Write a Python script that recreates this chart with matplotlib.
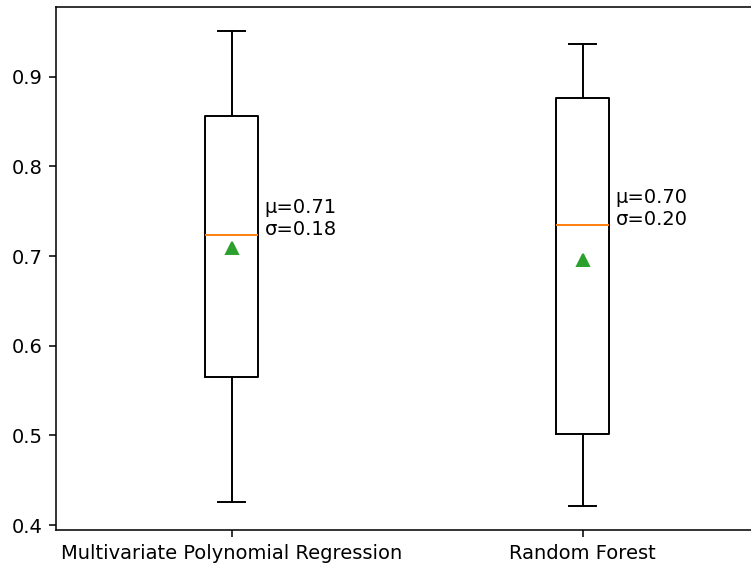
import matplotlib
matplotlib.use("Agg")
import matplotlib.pyplot as plt

# values
labels = ["Multivariate Polynomial Regression", "Random Forest"]
whislo = [0.426, 0.421]
q1 = [0.565, 0.502]
med = [0.724, 0.735]
q3 = [0.856, 0.876]
whishi = [0.951, 0.936]
means = [0.709, 0.696]
stds = [0.18, 0.20]

stats = []
for i in range(len(labels)):
    stats.append({
        "label": labels[i],
        "whislo": whislo[i],
        "q1": q1[i],
        "med": med[i],
        "q3": q3[i],
        "whishi": whishi[i],
        "mean": means[i],
        "fliers": [],
    })

fig = plt.figure(figsize=(751 / 140, 567 / 140), dpi=140)
ax = fig.add_axes([0.0746, 0.0653, 0.935, 0.922])

ax.bxp(stats, showmeans=True)

for i in range(len(labels)):
    ax.text(i + 1 + 0.094, med[i], "μ=%.2f\nσ=%.2f" % (means[i], stds[i]),
            ha="left", va="baseline")

plt.savefig("out.png", dpi=140)
